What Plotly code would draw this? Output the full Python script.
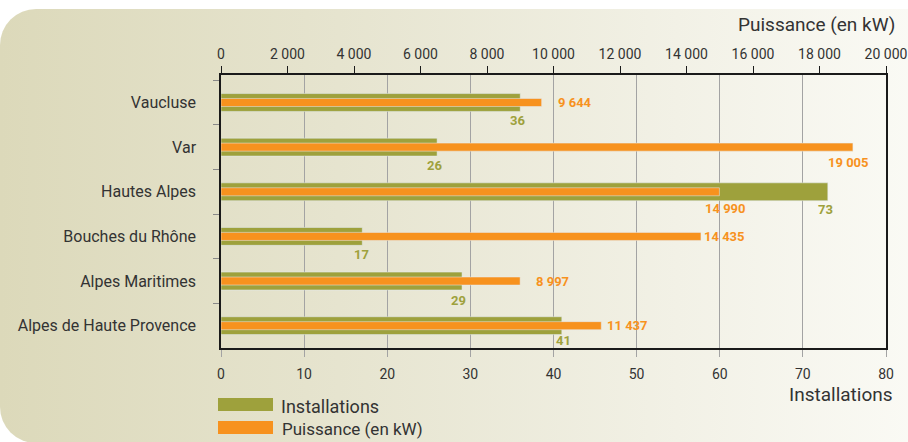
import base64
import plotly.graph_objects as go

# ---- data ----
departements = ["Vaucluse", "Var", "Hautes Alpes", "Bouches du Rhône",
                "Alpes Maritimes", "Alpes de Haute Provence"]
installations = [36, 26, 73, 17, 29, 41]
puissance_kw = [9644, 19005, 14990, 14435, 8997, 11437]

# ---- styles ----
GREEN = "#9ea13c"
ORANGE = "#f7921e"
TEXT = "#333333"
FONT = "Roboto"

# label placement (style only): xanchor, xshift, yshift
inst_label_style = [("center", -3, -18), ("center", -3, -18), ("center", -2, -18),
                    ("center", -1, -18), ("center", -4, -19), ("center", 2, -15)]
puis_label_style = [("left", 14, 0), ("center", -4, -15), ("center", 6, -17),
                    ("left", 1, 0), ("left", 14, 0), ("left", 4, 0)]

W, H = 908, 442
L, R, T, B = 221, 22, 75, 94
pw, ph = W - L - R, H - T - B

fig = go.Figure()
fig.add_trace(go.Bar(y=departements, x=installations, orientation="h",
                     marker_color=GREEN, width=0.4, name="Installations",
                     xaxis="x", yaxis="y", showlegend=False, hoverinfo="x+y"))
fig.add_trace(go.Bar(y=departements, x=puissance_kw, orientation="h",
                     marker_color=ORANGE, width=0.18, name="Puissance (en kW)",
                     xaxis="x2", yaxis="y", showlegend=False, hoverinfo="x+y"))


def fmt(v):
    return f"{v:,}".replace(",", " ")


annotations = []
for d, v, (xa, xs, ys) in zip(departements, installations, inst_label_style):
    annotations.append(dict(x=v, y=d, xref="x", yref="y", text=fmt(v), showarrow=False,
                            xanchor=xa, yanchor="middle", xshift=xs, yshift=ys,
                            font=dict(family=FONT, size=13, color=GREEN, weight="bold")))
for d, v, (xa, xs, ys) in zip(departements, puissance_kw, puis_label_style):
    annotations.append(dict(x=v, y=d, xref="x2", yref="y", text=fmt(v), showarrow=False,
                            xanchor=xa, yanchor="middle", xshift=xs, yshift=ys,
                            font=dict(family=FONT, size=13, color=ORANGE, weight="bold")))


def px_x(p):
    return (p - L) / pw


def px_y(p):
    return 1 - (p - T) / ph


# axis titles
annotations.append(dict(x=px_x(897), y=px_y(25), xref="paper", yref="paper",
                        text="Puissance (en kW)", showarrow=False, xanchor="right",
                        yanchor="middle", font=dict(family=FONT, size=19, color=TEXT)))
annotations.append(dict(x=px_x(895), y=px_y(394), xref="paper", yref="paper",
                        text="Installations", showarrow=False, xanchor="right",
                        yanchor="middle", font=dict(family=FONT, size=19, color=TEXT)))
# legend texts
annotations.append(dict(x=px_x(279), y=px_y(406), xref="paper", yref="paper",
                        text="Installations", showarrow=False, xanchor="left",
                        yanchor="middle", font=dict(family=FONT, size=18, color=TEXT)))
annotations.append(dict(x=px_x(280), y=px_y(429), xref="paper", yref="paper",
                        text="Puissance (en kW)", showarrow=False, xanchor="left",
                        yanchor="middle", font=dict(family=FONT, size=17, color=TEXT)))

shapes = [
    dict(type="rect", xref="paper", yref="paper", x0=px_x(218), x1=px_x(273),
         y0=px_y(398), y1=px_y(411), fillcolor=GREEN, line_width=0),
    dict(type="rect", xref="paper", yref="paper", x0=px_x(218), x1=px_x(273),
         y0=px_y(421), y1=px_y(434), fillcolor=ORANGE, line_width=0),
]

svg = f'''<svg xmlns="http://www.w3.org/2000/svg" width="{W}" height="{H}" viewBox="0 0 {W} {H}">
<defs><linearGradient id="g" x1="0" y1="0" x2="1" y2="0">
<stop offset="0" stop-color="#dcd9ba"/>
<stop offset="0.35" stop-color="#e6e4cf"/>
<stop offset="0.7" stop-color="#f2f1e6"/>
<stop offset="1" stop-color="#fcfcf8"/>
</linearGradient></defs>
<rect x="0" y="9" width="{W + 60}" height="{H - 8}" rx="36" ry="36" fill="url(#g)"/>
</svg>'''
src = "data:image/svg+xml;base64," + base64.b64encode(svg.encode()).decode()

fig.update_layout(
    width=W, height=H,
    margin=dict(l=L, r=R, t=T, b=B, pad=0, autoexpand=False),
    paper_bgcolor="white", plot_bgcolor="rgba(0,0,0,0)",
    barmode="overlay",
    separators=", ",
    font=dict(family=FONT, size=15, color=TEXT),
    images=[dict(source=src, xref="paper", yref="paper", x=-L / pw, y=1 + T / ph,
                 sizex=W / pw, sizey=H / ph, sizing="stretch", layer="below",
                 xanchor="left", yanchor="top")],
    xaxis=dict(range=[0, 80], dtick=10, tick0=0, showgrid=True, gridcolor="#a3a3a3",
               gridwidth=1, zeroline=False, showline=True, linecolor="#1a1a1a",
               linewidth=1.5, mirror=True, ticks="outside", ticklen=7, tickcolor="#a3a3a3",
               tickfont=dict(size=14, color=TEXT), ticklabelstandoff=5,
               automargin=False, fixedrange=True),
    xaxis2=dict(range=[0, 20000], dtick=2000, tick0=0, overlaying="x", side="top",
                showgrid=False, zeroline=False, showline=True, linecolor="#1a1a1a",
                linewidth=1.5, ticks="outside", ticklen=7, tickcolor="#1a1a1a",
                tickformat=",d", separatethousands=True, exponentformat="none",
                tickfont=dict(size=14, color=TEXT), ticklabelstandoff=2,
                automargin=False, fixedrange=True),
    yaxis=dict(autorange="reversed", showline=True, linecolor="#1a1a1a", linewidth=1.5,
               mirror=True, ticks="outside", tickson="boundaries", ticklen=6,
               tickcolor="#888888", ticklabelstandoff=20, showgrid=False,
               tickfont=dict(size=16, color=TEXT), automargin=False, fixedrange=True),
    annotations=annotations,
    shapes=shapes,
)

fig.write_html("out.html")
